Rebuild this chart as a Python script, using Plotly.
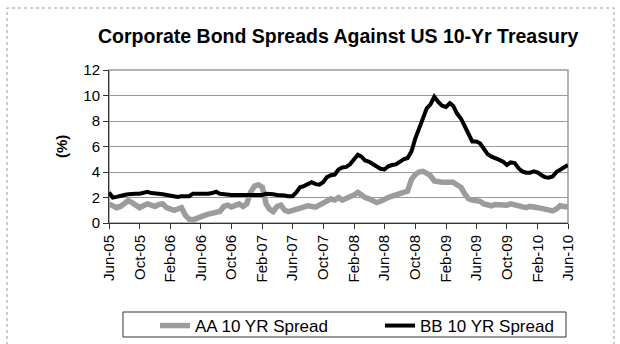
import pandas as pd
import plotly.graph_objects as go

# Semi-monthly observations, Jun-2005 .. Jun-2010 (1st and 16th of each month)
start = pd.Timestamp("2005-06-01")
dates = []
for m in range(61):
    d = start + pd.DateOffset(months=m)
    dates.append(d)
    if m < 60:
        dates.append(d + pd.Timedelta(days=15))

aa_spread = [
    1.5, 1.35, 1.2, 1.3, 1.6, 1.75, 1.6, 1.4, 1.2, 1.35,
    1.5, 1.4, 1.3, 1.45, 1.5, 1.2, 1.1, 1.0, 1.1, 1.2,
    0.6, 0.3, 0.25, 0.4, 0.45, 0.6, 0.7, 0.75, 0.85, 0.9,
    1.3, 1.4, 1.25, 1.4, 1.5, 1.3, 1.5, 2.4, 2.9, 3.0,
    2.8, 1.5, 1.1, 0.9, 1.3, 1.4, 1.0, 0.9, 1.0, 1.1,
    1.25, 1.25, 1.35, 1.3, 1.25, 1.4, 1.6, 1.8, 1.9, 1.8,
    2.0, 1.8, 1.9, 2.0, 2.2, 2.4, 2.2, 2.0, 1.9, 1.7,
    1.6, 1.7, 1.9, 2.0, 2.1, 2.2, 2.2, 2.3, 2.5, 3.4,
    3.8, 4.0, 4.05, 3.9, 3.7, 3.3, 3.2, 3.2, 3.2, 3.15,
    3.2, 3.0, 2.8, 2.3, 1.9, 1.8, 1.8, 1.7, 1.5, 1.4,
    1.35, 1.45, 1.4, 1.45, 1.4, 1.5, 1.4, 1.3, 1.3, 1.2,
    1.3, 1.2, 1.2, 1.15, 1.1, 1.0, 0.95, 1.1, 1.35, 1.3,
    1.25,
]

bb_spread = [
    2.4, 2.0, 2.05, 2.15, 2.2, 2.25, 2.3, 2.3, 2.3, 2.35,
    2.45, 2.35, 2.35, 2.3, 2.25, 2.2, 2.1, 2.05, 2.05, 2.1,
    2.1, 2.1, 2.3, 2.3, 2.25, 2.3, 2.3, 2.35, 2.45, 2.3,
    2.25, 2.2, 2.2, 2.2, 2.2, 2.2, 2.2, 2.15, 2.15, 2.2,
    2.2, 2.3, 2.3, 2.25, 2.2, 2.2, 2.15, 2.1, 2.1, 2.4,
    2.8, 2.9, 3.1, 3.2, 3.05, 3.0, 3.2, 3.6, 3.75, 3.8,
    4.2, 4.35, 4.4, 4.6, 5.0, 5.35, 5.2, 4.9, 4.8, 4.6,
    4.45, 4.25, 4.2, 4.45, 4.55, 4.6, 4.8, 5.0, 5.1, 5.6,
    6.6, 7.4, 8.2, 9.0, 9.3, 9.9, 9.5, 9.2, 9.1, 9.4,
    9.2, 8.6, 8.2, 7.5, 7.0, 6.4, 6.4, 6.25, 5.8, 5.4,
    5.2, 5.1, 4.95, 4.8, 4.55, 4.75, 4.7, 4.3, 4.05, 3.95,
    3.95, 4.05, 3.95, 3.75, 3.6, 3.55, 3.65, 4.0, 4.2, 4.4,
    4.55,
]

tick_labels = ["Jun-05", "Oct-05", "Feb-06", "Jun-06", "Oct-06", "Feb-07",
               "Jun-07", "Oct-07", "Feb-08", "Jun-08", "Oct-08", "Feb-09",
               "Jun-09", "Oct-09", "Feb-10", "Jun-10"]
tick_dates = pd.date_range("2005-06-01", periods=len(tick_labels), freq="4MS")

FONT = "Liberation Sans, Arial, sans-serif"

fig = go.Figure()
fig.add_trace(go.Scatter(
    x=dates, y=aa_spread, mode="lines", name="AA 10 YR Spread",
    line=dict(color="#9c9c9c", width=5.5),
))
fig.add_trace(go.Scatter(
    x=dates, y=bb_spread, mode="lines", name="BB 10 YR Spread",
    line=dict(color="#000000", width=4),
))

W, H = 620, 344
L, R, T, B = 109, 52, 70, 121
pw, ph = W - L - R, H - T - B

def px_x(x):
    return (x - L) / pw

def px_y(y):
    return (H - B - y) / ph

fig.update_layout(
    width=W, height=H,
    margin=dict(l=L, r=R, t=T, b=B, autoexpand=False),
    paper_bgcolor="white", plot_bgcolor="white",
    font=dict(family=FONT, size=15, color="#000"),
    showlegend=True,
    legend=dict(
        orientation="h",
        xref="container", yref="container",
        x=155 / W, y=1 - 308 / H, xanchor="left", yanchor="top",
        borderwidth=0, bgcolor="rgba(0,0,0,0)",
        font=dict(size=17),
        entrywidth=180, entrywidthmode="pixels",
        itemwidth=30,
    ),
    xaxis=dict(
        range=[dates[0], dates[-1]],
        tickvals=list(tick_dates), ticktext=tick_labels,
        tickangle=-90, ticks="outside", ticklen=5, tickcolor="#333",
        showline=True, linecolor="#333", linewidth=1,
        showgrid=False, zeroline=False, automargin=False,
        tickfont=dict(size=15),
    ),
    yaxis=dict(
        range=[0, 12], dtick=2, ticks="outside", ticklen=5, tickcolor="#333",
        showline=True, linecolor="#333", linewidth=1,
        showgrid=True, gridcolor="#999", gridwidth=1, zeroline=False,
        automargin=False,
        tickfont=dict(size=15),
    ),
    shapes=[
        # plot frame (top / right edges)
        dict(type="rect", xref="paper", yref="paper", x0=0, x1=1, y0=0, y1=1,
             line=dict(color="#999", width=1.5), layer="below"),
        # legend box
        dict(type="rect", xref="paper", yref="paper",
             x0=px_x(123), x1=px_x(566), y0=px_y(337), y1=px_y(312),
             line=dict(color="#333", width=1)),
        # dotted chart border
        dict(type="rect", xref="paper", yref="paper",
             x0=px_x(7), x1=px_x(614), y0=px_y(350), y1=px_y(8),
             line=dict(color="#999", width=1, dash="dot")),
    ],
    annotations=[
        dict(text="<b>Corporate Bond Spreads Against US 10-Yr Treasury</b>",
             xref="paper", yref="paper", x=px_x(338), y=px_y(36),
             xanchor="center", yanchor="middle", showarrow=False,
             font=dict(family=FONT, size=19.5)),
        dict(text="<b>(%)</b>", xref="paper", yref="paper",
             x=px_x(61), y=px_y(147), xanchor="center", yanchor="middle",
             textangle=-90, showarrow=False, font=dict(size=15)),
    ],
)

fig.write_html("out.html")
